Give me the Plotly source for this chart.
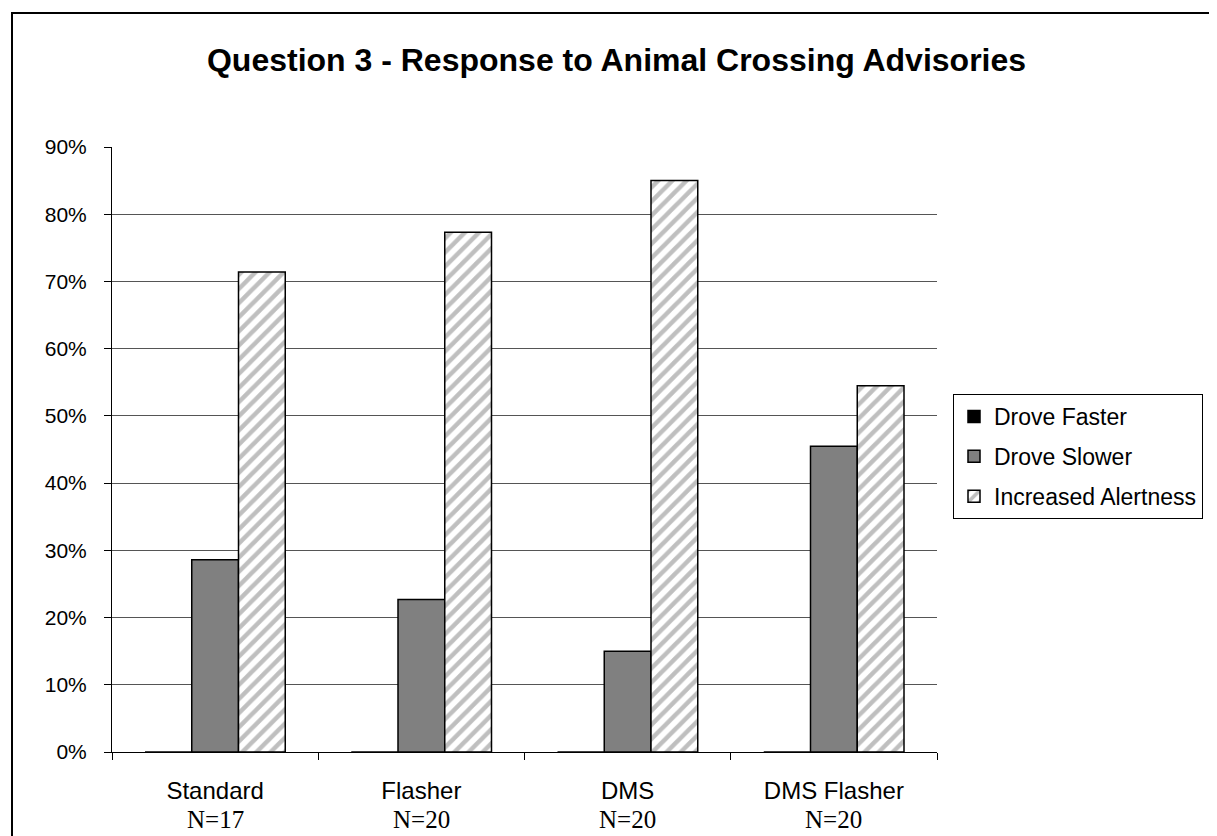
import plotly.graph_objects as go

categories = ["Standard", "Flasher", "DMS", "DMS Flasher"]
sample_sizes = ["N=17", "N=20", "N=20", "N=20"]
drove_faster = [0.0, 0.0, 0.0, 0.0]
drove_slower = [0.286, 0.227, 0.15, 0.455]
increased_alertness = [0.714, 0.773, 0.85, 0.545]
y_ticks = [0, 0.1, 0.2, 0.3, 0.4, 0.5, 0.6, 0.7, 0.8, 0.9]

W, H = 1217, 836
L, R, T, B = 104, 288, 139, 92
pw, ph = W - L - R, H - T - B

def px_x(px):
    return (px - L) / pw

def px_y(py):
    return (H - B - py) / ph

fig = go.Figure()
line = dict(color="black", width=1.5)
fig.add_trace(go.Bar(name="Drove Faster", x=categories, y=drove_faster,
                     marker=dict(color="black", line=line), legendgroup="a"))
fig.add_trace(go.Bar(name="Drove Slower", x=categories, y=drove_slower,
                     marker=dict(color="#808080", line=line), legendgroup="b"))
fig.add_trace(go.Bar(name="Increased Alertness", x=categories, y=increased_alertness,
                     marker=dict(color="white", line=line,
                                 pattern=dict(shape="/", fgcolor="#7f7f7f", bgcolor="white",
                                              size=10, solidity=0.45)),
                     legendgroup="c"))

for cat, n in zip(categories, sample_sizes):
    fig.add_annotation(x=cat, xref="x", y=px_y(811), yref="paper", text=n,
                       showarrow=False, yanchor="middle",
                       font=dict(family="Liberation Serif", size=25, color="black"))

fig.update_layout(
    width=W, height=H,
    margin=dict(l=L, r=R, t=T, b=B, autoexpand=False),
    paper_bgcolor="white", plot_bgcolor="white",
    barmode="group", bargap=0.32, bargroupgap=0,
    font=dict(family="Liberation Sans, Arial", size=21, color="black"),
    title=dict(text="<b>Question 3 - Response to Animal Crossing Advisories</b>",
               x=0.5, xref="container", xanchor="center",
               y=1 - 52 / H, yref="container", yanchor="middle",
               font=dict(family="Liberation Sans, Arial", size=32, color="black")),
    showlegend=True,
    legend=dict(x=px_x(945), y=px_y(386), xanchor="left", yanchor="top",
                bordercolor="black", borderwidth=1, bgcolor="white",
                font=dict(family="Liberation Sans, Arial", size=23, color="black"),
                tracegroupgap=7, traceorder="grouped", itemwidth=30),
    shapes=[dict(type="rect", xref="paper", yref="paper",
                 x0=px_x(4), x1=px_x(1224), y0=px_y(845), y1=px_y(5),
                 line=dict(color="black", width=2), fillcolor="rgba(0,0,0,0)", layer="below")],
)

fig.update_yaxes(range=[0, 0.9], tickvals=y_ticks, tickformat=".0%",
                 showline=True, linecolor="black", linewidth=1,
                 showgrid=True, gridcolor="#555555", gridwidth=1,
                 ticks="outside", ticklen=7, tickcolor="black",
                 ticklabelstandoff=13, zeroline=False)
fig.update_xaxes(showline=True, linecolor="black", linewidth=1,
                 ticks="outside", tickson="boundaries", ticklen=7, tickcolor="black",
                 showgrid=False, tickfont=dict(size=24), ticklabelstandoff=17)

fig.write_html("out.html")
